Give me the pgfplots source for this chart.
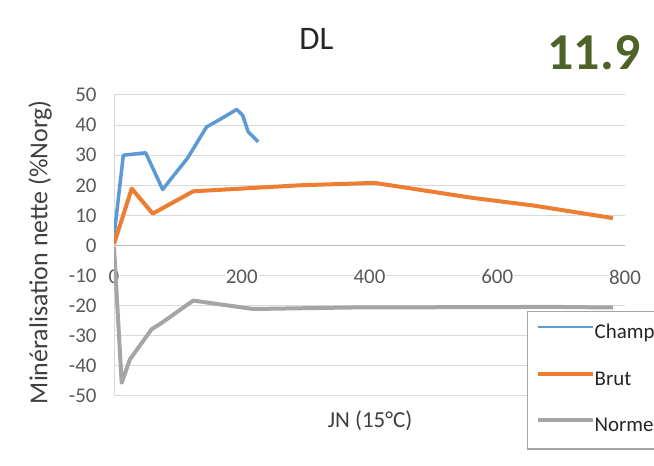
\documentclass[border=0pt]{standalone}
\usepackage{pgfplots}
\pgfplotsset{compat=1.18}
\usepackage{fontspec}
\setmainfont{Carlito}
\definecolor{cblue}{HTML}{5B9BD5}
\definecolor{corange}{HTML}{ED7D31}
\definecolor{cgray}{HTML}{A5A5A5}
\definecolor{cgreen}{HTML}{4F6228}
\definecolor{gridc}{HTML}{D9D9D9}
\definecolor{tickc}{HTML}{595959}
\definecolor{labc}{HTML}{404040}
\begin{document}
\begin{tikzpicture}
\useasboundingbox (0,0) rectangle (654bp,466bp);
\clip (0,0) rectangle (654bp,466bp);
\begin{axis}[
  at={(114bp,70bp)}, anchor=south west,
  scale only axis, width=511bp, height=301bp,
  xmin=0, xmax=800, ymin=-50, ymax=50,
  xtick={0,200,400,600,800},
  ytick={-50,-40,-30,-20,-10,0,10,20,30,40,50},
  axis line style={draw=none},
  tick style={draw=none},
  ymajorgrids,
  major grid style={gridc, line width=1bp},
  /pgf/number format/assume math mode=true,
  ticklabel style={font=\fontsize{21}{24}\selectfont, text=tickc},
  xticklabel style={anchor=center, yshift=119bp, fill=white, inner sep=1bp},
  yticklabel style={xshift=-14bp},
  xlabel={JN (15°C)},
  ylabel={Minéralisation nette (\%Norg)},
  every axis x label/.style={at={(axis description cs:0.501,-0.083)}, anchor=center, font=\fontsize{23}{26}\selectfont, text=labc},
  every axis y label/.style={at={(axis description cs:-0.1448,0.478)}, rotate=90, anchor=center, font=\fontsize{26}{30}\selectfont, text=labc},
  legend style={at={(0.808,0.2824)}, anchor=north west, draw=cgray, line width=1.5bp,
    inner xsep=8bp, inner ysep=13bp, row sep=28.5bp,
    font=\fontsize{21}{24}\selectfont, text=black!85,
    nodes={inner sep=0pt, text height=14bp, text depth=4bp},
    /tikz/every even column/.append style={column sep=3bp}},
  legend cell align=left,
  legend image code/.code={\draw[#1] (0bp,6.5bp) -- (55bp,6.5bp);},
]
\draw[gridc, line width=1bp] (axis cs:0,-50) -- (axis cs:0,50);
\draw[gridc!85!black, line width=1bp] (axis cs:0,0) -- (axis cs:800,0);
\addplot[cblue, line width=3.5bp, line join=round,
  legend image code/.code={\draw[cblue, line width=2bp] (0bp,6.5bp) -- (55bp,6.5bp);}]
  coordinates {(0,3) (14.6,30) (49.6,30.8) (76.2,18.6) (87.6,21.7) (114.7,28.9) (145,39.4) (166,41.9) (192,45.2) (201.4,43.3) (210,37.8) (225.8,34.4)};
\addlegendentry{Champ}
\addplot[corange, line width=4bp, line join=round]
  coordinates {(0,0.5) (27.7,18.9) (60.6,10.6) (124,18) (291,20) (408,20.8) (562,15.8) (656,13.3) (781,9.1)};
\addlegendentry{Brut}
\addplot[cgray, line width=4bp, line join=round]
  coordinates {(0,-0.5) (12,-45.6) (25,-37.8) (59,-27.8) (72,-26.1) (124,-18.3) (218,-21.1) (369,-20.6) (687,-20.4) (781,-20.6)};
\addlegendentry{Normes}
\end{axis}
\node[font=\fontsize{33}{36}\selectfont, text=black!85] at (316.5bp,427.5bp) {DL};
\node[font=\fontsize{52}{56}\selectfont\bfseries, text=cgreen] at (594bp,413bp) {11.9};
\end{tikzpicture}
\end{document}
